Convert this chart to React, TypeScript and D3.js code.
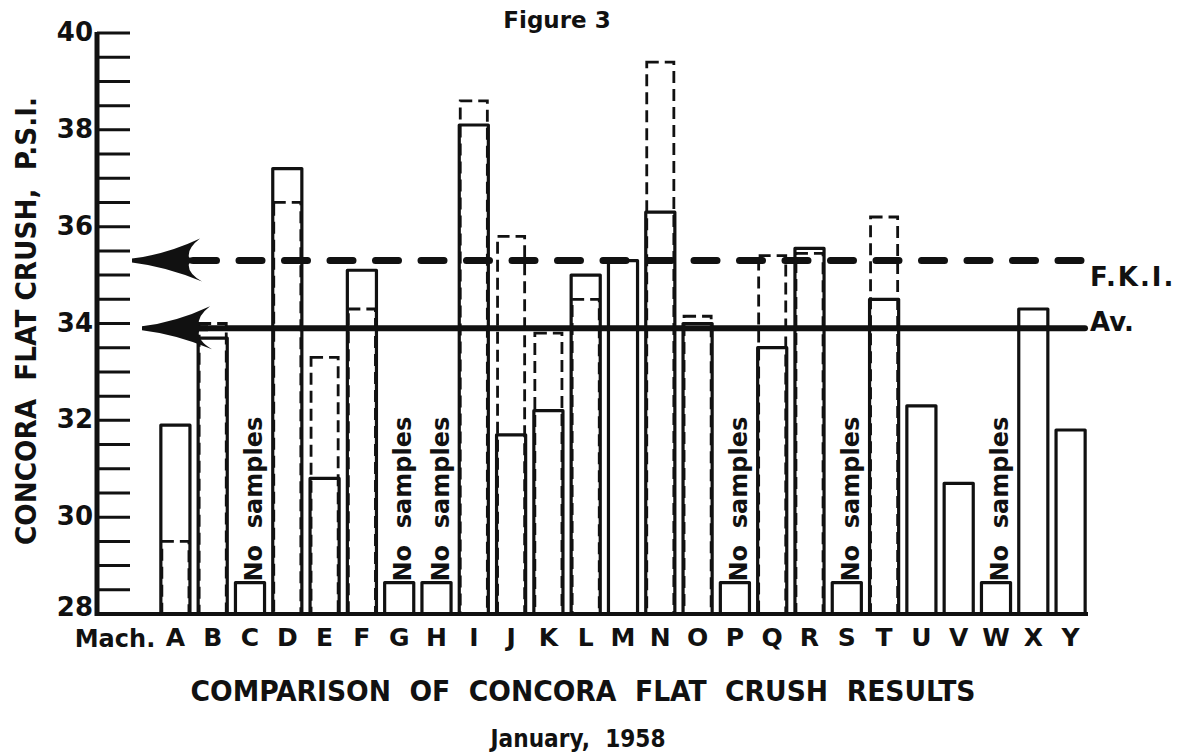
import { useEffect, useRef } from "react";
import * as d3 from "d3";

// machines along the bottom
const machines = [
  "A", "B", "C", "D", "E", "F", "G", "H", "I", "J", "K", "L", "M",
  "N", "O", "P", "Q", "R", "S", "T", "U", "V", "W", "X", "Y",
];

// solid bars, P.S.I. (null = no samples)
const solidValues = [
  31.9, 33.7, null, 37.2, 30.8, 35.1, null, null, 38.1, 31.7, 32.2, 35.0, 35.3,
  36.3, 34.0, null, 33.5, 35.55, null, 34.5, 32.3, 30.7, null, 34.3, 31.8,
];

// dashed bars, P.S.I. (null = none drawn)
const dashedValues = [
  29.5, 34.0, null, 36.5, 33.3, 34.3, null, null, 38.6, 35.8, 33.8, 34.5, null,
  39.4, 34.15, null, 35.4, 35.45, null, 36.2, null, null, null, null, null,
];

const noSampleLevel = 28.65;
const fkiValue = 35.3;
const avValue = 33.9;

const yMajorTicks = [28, 30, 32, 34, 36, 38, 40];
const yMinorTicks = d3.range(28.5, 40.01, 0.5);

const ink = "#111";
const font = "'DejaVu Sans', sans-serif";
const condensed = "'DejaVu Sans Condensed', 'Liberation Sans Narrow', sans-serif";

export default function App() {
  const svgRef = useRef<SVGSVGElement>(null);

  useEffect(() => {
    const width = 1193;
    const height = 752;
    const svg = d3.select(svgRef.current);
    svg.selectAll("*").remove(); // start clean

    svg.attr("width", width).attr("height", height);
    svg.append("rect").attr("width", width).attr("height", height).attr("fill", "#fff");

    const x = d3
      .scaleBand<string>()
      .domain(machines)
      .range([156.75, 1089.25])
      .paddingInner(0.22)
      .paddingOuter(0.11);

    const y = d3.scaleLinear().domain([28, 40]).range([614, 33]);
    const y0 = y(28);
    const xLeft = 97;
    const xRight = 1088;

    const g = svg.append("g");

    // dashed bars first, solid ones on top
    g.selectAll("rect.dashed")
      .data(machines.map((m, i) => ({ m, v: dashedValues[i] })).filter((d) => d.v != null))
      .enter()
      .append("rect")
      .attr("class", "dashed")
      .attr("x", (d) => x(d.m)! + 1)
      .attr("y", (d) => y(d.v as number))
      .attr("width", x.bandwidth() - 2)
      .attr("height", (d) => y0 - y(d.v as number))
      .attr("fill", "none")
      .attr("stroke", ink)
      .attr("stroke-width", 2.8)
      .attr("stroke-dasharray", "12 6");

    const solid = machines.map((m, i) => ({
      m,
      v: solidValues[i] == null ? noSampleLevel : (solidValues[i] as number),
      none: solidValues[i] == null,
    }));

    g.selectAll("rect.solid")
      .data(solid)
      .enter()
      .append("rect")
      .attr("class", "solid")
      .attr("x", (d) => x(d.m)!)
      .attr("y", (d) => y(d.v))
      .attr("width", x.bandwidth())
      .attr("height", (d) => y0 - y(d.v))
      .attr("fill", "none")
      .attr("stroke", ink)
      .attr("stroke-width", 3.2)
      .attr("stroke-linejoin", "round");

    // "No samples" notes
    g.selectAll("text.nosamp")
      .data(solid.filter((d) => d.none))
      .enter()
      .append("text")
      .attr("class", "nosamp")
      .attr(
        "transform",
        (d) => `translate(${x(d.m)! + x.bandwidth() / 2 + 12},${y(d.v) - 1}) rotate(-90)`
      )
      .attr("font-family", font)
      .attr("font-weight", "bold")
      .attr("font-size", 24)
      .attr("fill", ink)
      .style("white-space", "pre")
      .text("No  samples");

    // reference lines
    const lineStart = 190;
    const lineEnd = 1085;
    g.append("line")
      .attr("x1", lineStart + 3.5)
      .attr("x2", lineEnd - 3.5)
      .attr("y1", y(fkiValue))
      .attr("y2", y(fkiValue))
      .attr("stroke", ink)
      .attr("stroke-width", 7)
      .attr("stroke-linecap", "round")
      .attr("stroke-dasharray", "23 22.5");

    g.append("line")
      .attr("x1", lineStart)
      .attr("x2", lineEnd)
      .attr("y1", y(avValue))
      .attr("y2", y(avValue))
      .attr("stroke", ink)
      .attr("stroke-width", 6)
      .attr("stroke-linecap", "round");

    // harpoon-like arrow heads pointing at the axis
    const arrow = (tx: number, ty: number) =>
      `M${tx},${ty - 2} Q${tx + 34},${ty - 6} ${tx + 68},${ty - 22} ` +
      `Q${tx + 55},${ty - 12} ${tx + 57},${ty - 3} L${tx + 66},${ty - 3} ` +
      `L${tx + 66},${ty + 3} L${tx + 57},${ty + 3} ` +
      `Q${tx + 55},${ty + 12} ${tx + 70},${ty + 21} Q${tx + 34},${ty + 6} ${tx},${ty + 2} Z`;

    g.append("path").attr("d", arrow(132, y(fkiValue))).attr("fill", ink);
    g.append("path").attr("d", arrow(142, y(avValue))).attr("fill", ink);

    g.append("text")
      .attr("x", 1090)
      .attr("y", y(fkiValue) + 25)
      .attr("font-family", font)
      .attr("font-weight", "bold")
      .attr("font-size", 26)
      .attr("letter-spacing", 2)
      .attr("fill", ink)
      .text("F.K.I.");

    g.append("text")
      .attr("x", 1090)
      .attr("y", y(avValue) + 3)
      .attr("font-family", font)
      .attr("font-weight", "bold")
      .attr("font-size", 26)
      .attr("fill", ink)
      .text("Av.");

    // y axis with inward ticks
    g.selectAll("line.tick")
      .data(yMinorTicks)
      .enter()
      .append("line")
      .attr("class", "tick")
      .attr("x1", xLeft)
      .attr("x2", 130)
      .attr("y1", (d) => y(d))
      .attr("y2", (d) => y(d))
      .attr("stroke", ink)
      .attr("stroke-width", 3);

    g.append("line")
      .attr("x1", xLeft)
      .attr("x2", xLeft)
      .attr("y1", y(40) - 1)
      .attr("y2", y0 + 2)
      .attr("stroke", ink)
      .attr("stroke-width", 5);

    g.append("line")
      .attr("x1", xLeft - 2)
      .attr("x2", xRight)
      .attr("y1", y0)
      .attr("y2", y0)
      .attr("stroke", ink)
      .attr("stroke-width", 4);

    g.selectAll("text.ylab")
      .data(yMajorTicks)
      .enter()
      .append("text")
      .attr("class", "ylab")
      .attr("x", 93)
      .attr("y", (d) => y(d) + (d === 28 ? 2 : 8))
      .attr("text-anchor", "end")
      .attr("font-family", font)
      .attr("font-weight", "bold")
      .attr("font-size", 26)
      .attr("fill", ink)
      .text((d) => d);

    // x labels
    g.selectAll("text.xlab")
      .data(machines)
      .enter()
      .append("text")
      .attr("class", "xlab")
      .attr("x", (d) => x(d)! + x.bandwidth() / 2)
      .attr("y", 646)
      .attr("text-anchor", "middle")
      .attr("font-family", font)
      .attr("font-weight", "bold")
      .attr("font-size", 25)
      .attr("fill", ink)
      .text((d) => d);

    g.append("text")
      .attr("x", 115)
      .attr("y", 647)
      .attr("text-anchor", "middle")
      .attr("font-family", font)
      .attr("font-weight", "bold")
      .attr("font-size", 24)
      .attr("fill", ink)
      .text("Mach.");

    // titles
    g.append("text")
      .attr("x", 557)
      .attr("y", 28)
      .attr("text-anchor", "middle")
      .attr("font-family", font)
      .attr("font-weight", "bold")
      .attr("font-size", 23)
      .attr("fill", ink)
      .text("Figure 3");

    g.append("text")
      .attr("transform", "translate(36,321) rotate(-90)")
      .attr("text-anchor", "middle")
      .attr("font-family", font)
      .attr("font-weight", "bold")
      .attr("font-size", 28)
      .attr("textLength", 448)
      .attr("lengthAdjust", "spacingAndGlyphs")
      .attr("fill", ink)
      .style("white-space", "pre")
      .text("CONCORA  FLAT CRUSH,  P.S.I.");

    g.append("text")
      .attr("x", 583)
      .attr("y", 701)
      .attr("text-anchor", "middle")
      .attr("font-family", condensed)
      .attr("font-weight", "bold")
      .attr("font-size", 28)
      .attr("textLength", 785)
      .attr("lengthAdjust", "spacingAndGlyphs")
      .attr("fill", ink)
      .style("white-space", "pre")
      .text("COMPARISON  OF  CONCORA  FLAT  CRUSH  RESULTS");

    g.append("text")
      .attr("x", 578)
      .attr("y", 747)
      .attr("text-anchor", "middle")
      .attr("font-family", font)
      .attr("font-weight", "bold")
      .attr("font-size", 25)
      .attr("textLength", 175)
      .attr("lengthAdjust", "spacingAndGlyphs")
      .attr("fill", ink)
      .style("white-space", "pre")
      .text("January,  1958");
  }, []);

  return (
    <svg
      ref={svgRef}
      style={{ position: "absolute", left: 0, top: 0, display: "block" }}
    />
  );
}
